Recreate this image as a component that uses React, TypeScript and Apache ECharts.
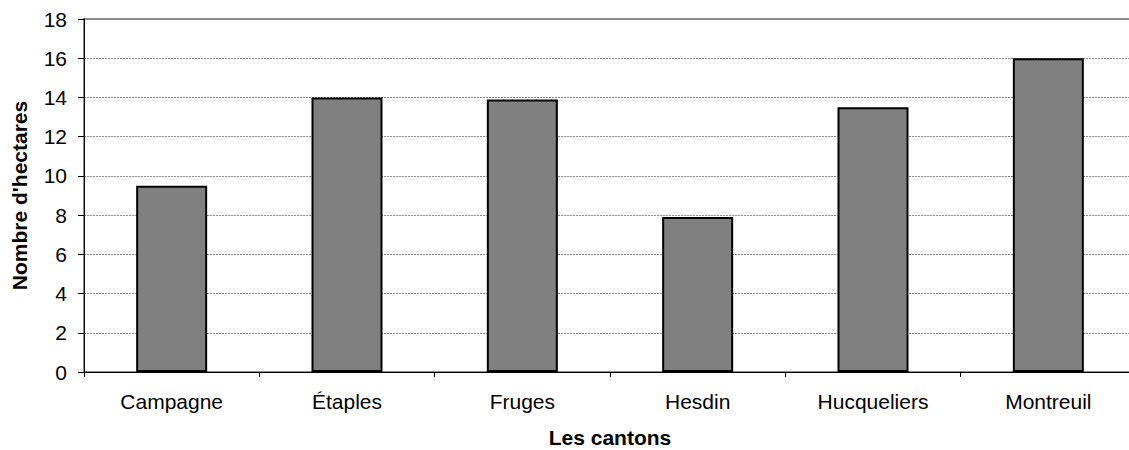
import React, { useEffect, useRef } from "react";
import * as echarts from "echarts";

const categories = ["Campagne", "Étaples", "Fruges", "Hesdin", "Hucqueliers", "Montreuil"];
const values = [9.5, 14.0, 13.9, 7.9, 13.5, 16.0];
const xTitle = "Les cantons";
const yTitle = "Nombre d'hectares";

const FONT = "'Liberation Sans', Arial, sans-serif";

export default function App() {
  const ref = useRef<HTMLDivElement>(null);
  useEffect(() => {
    if (!ref.current) return;
    const chart = echarts.init(ref.current, null, { renderer: "svg" });
    chart.setOption({
      animation: false,
      backgroundColor: "#ffffff",
      textStyle: { fontFamily: FONT },
      grid: {
        left: 84,
        top: 19,
        width: 1052,
        height: 353,
        show: true,
        borderColor: "#8c8c8c",
        borderWidth: 2,
        containLabel: false,
        outerBoundsMode: "none",
      },
      xAxis: {
        type: "category",
        data: categories,
        name: xTitle,
        nameLocation: "middle",
        nameGap: 55,
        nameTextStyle: { fontFamily: FONT, fontSize: 21, fontWeight: "bold", color: "#000", lineHeight: 21 },
        axisLine: { show: true, lineStyle: { color: "#000", width: 1 } },
        axisTick: { show: true, length: 5, lineStyle: { color: "#000" }, alignWithLabel: false },
        axisLabel: { fontFamily: FONT, fontSize: 21, color: "#000", margin: 19 },
        splitLine: { show: false },
      },
      yAxis: {
        type: "value",
        min: 0,
        max: 18,
        interval: 2,
        name: yTitle,
        nameLocation: "middle",
        nameGap: 54,
        nameTextStyle: { fontFamily: FONT, fontSize: 21, fontWeight: "bold", color: "#000" },
        axisLine: { show: true, lineStyle: { color: "#000", width: 1 } },
        axisTick: { show: true, length: 6, lineStyle: { color: "#000" } },
        axisLabel: { fontFamily: FONT, fontSize: 21, color: "#000", margin: 17 },
        splitLine: { show: true, lineStyle: { color: "#8c8c8c", type: [2, 1], width: 1 } },
      },
      series: [
        {
          type: "bar",
          data: values,
          barWidth: 71,
          itemStyle: { color: "#808080", borderColor: "#000", borderWidth: 2 },
        },
      ],
    });
    return () => chart.dispose();
  }, []);
  return (
    <div
      ref={ref}
      style={{ position: "fixed", left: 0, top: 0, width: 1129, height: 450, background: "#fff" }}
    />
  );
}
